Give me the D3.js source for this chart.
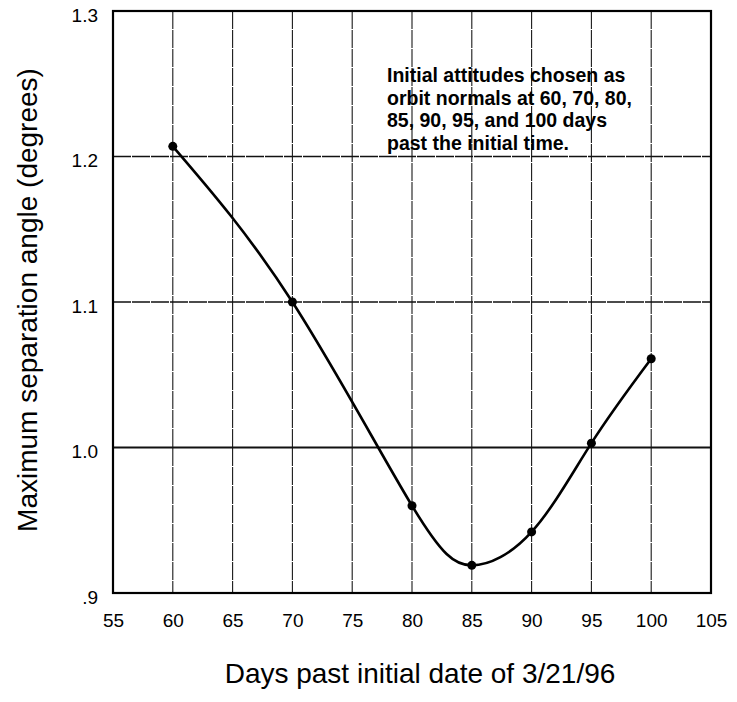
<!DOCTYPE html>
<html>
<head>
<meta charset="utf-8">
<script src="https://cdn.jsdelivr.net/npm/d3@7"></script>
<style>
  body { margin: 0; background: #fff; }
  text { font-family: "Liberation Sans", Arial, Helvetica, sans-serif; fill: #000; }
</style>
</head>
<body>
<script>
// data
var days = [60, 70, 80, 85, 90, 95, 100];
var maxAngle = [1.207, 1.100, 0.960, 0.919, 0.942, 1.003, 1.061];

var xTicks = [55, 60, 65, 70, 75, 80, 85, 90, 95, 100, 105];
var yTicks = [0.9, 1.0, 1.1, 1.2, 1.3];
var yTickLabels = [".9", "1.0", "1.1", "1.2", "1.3"];

var noteLines = [
  "Initial attitudes chosen as",
  "orbit normals at 60, 70, 80,",
  "85, 90, 95, and 100 days",
  "past the initial time."
];

var width = 737, height = 702;
// plot frame (note: "top" is reserved on window, so use other names)
var plotL = 113, plotR = 711, plotT = 11, plotB = 593;

var svg = d3.select("body").append("svg")
  .attr("width", width)
  .attr("height", height);

var x = d3.scaleLinear().domain([55, 105]).range([plotL, plotR]);
var y = d3.scaleLinear().domain([0.9, 1.3]).range([plotB, plotT]);

// grid
svg.append("g").selectAll("line")
  .data(xTicks.slice(1, -1))
  .enter().append("line")
  .attr("x1", function(d) { return x(d); })
  .attr("x2", function(d) { return x(d); })
  .attr("y1", plotT).attr("y2", plotB)
  .attr("stroke", "#1a1a1a").attr("stroke-width", 1.1)
  .attr("stroke-dasharray", "18,1");

svg.append("g").selectAll("line")
  .data(yTicks.slice(1, -1))
  .enter().append("line")
  .attr("x1", plotL).attr("x2", plotR)
  .attr("y1", function(d) { return y(d); })
  .attr("y2", function(d) { return y(d); })
  .attr("stroke", "#111")
  .attr("stroke-width", function(d) { return d === 1.0 ? 2 : 1.3; })
  .attr("stroke-dasharray", function(d) { return d === 1.0 ? null : "18,1"; });

// frame
svg.append("rect")
  .attr("x", plotL).attr("y", plotT)
  .attr("width", plotR - plotL).attr("height", plotB - plotT)
  .attr("fill", "none").attr("stroke", "#000").attr("stroke-width", 2.2);

// axes (labels only)
var xAxis = svg.append("g")
  .attr("transform", "translate(0," + plotB + ")")
  .call(d3.axisBottom(x).tickValues(xTicks).tickSize(0).tickPadding(21)
    .tickFormat(d3.format("d")));
xAxis.select(".domain").remove();
xAxis.selectAll("text").style("font-size", "19px");

var yAxis = svg.append("g")
  .attr("transform", "translate(" + plotL + ",0)")
  .call(d3.axisLeft(y).tickValues(yTicks).tickSize(0).tickPadding(15)
    .tickFormat(function(d, i) { return yTickLabels[i]; }));
yAxis.select(".domain").remove();
yAxis.selectAll("text").style("font-size", "19px")
  .attr("dy", "0.55em");
svg.selectAll("g[font-family]").attr("font-family", null);

// curve
var line = d3.line()
  .x(function(d, i) { return x(days[i]); })
  .y(function(d) { return y(d); })
  .curve(d3.curveNatural);

svg.append("path")
  .datum(maxAngle)
  .attr("d", line)
  .attr("fill", "none")
  .attr("stroke", "#000")
  .attr("stroke-width", 2.6);

svg.append("g").selectAll("circle")
  .data(maxAngle)
  .enter().append("circle")
  .attr("cx", function(d, i) { return x(days[i]); })
  .attr("cy", function(d) { return y(d); })
  .attr("r", 4.5)
  .attr("fill", "#000");

// annotation
svg.append("text")
  .attr("x", 387).attr("y", 82)
  .style("font-size", "19.5px").style("font-weight", "bold")
  .selectAll("tspan")
  .data(noteLines)
  .enter().append("tspan")
  .attr("x", 387)
  .attr("dy", function(d, i) { return i === 0 ? 0 : 22.7; })
  .text(function(d) { return d; });

// titles
svg.append("text")
  .attr("x", 420).attr("y", 683)
  .attr("text-anchor", "middle")
  .style("font-size", "28px")
  .text("Days past initial date of 3/21/96");

svg.append("text")
  .attr("transform", "translate(37,300) rotate(-90)")
  .attr("text-anchor", "middle")
  .style("font-size", "28px")
  .text("Maximum separation angle (degrees)");
</script>
</body>
</html>
